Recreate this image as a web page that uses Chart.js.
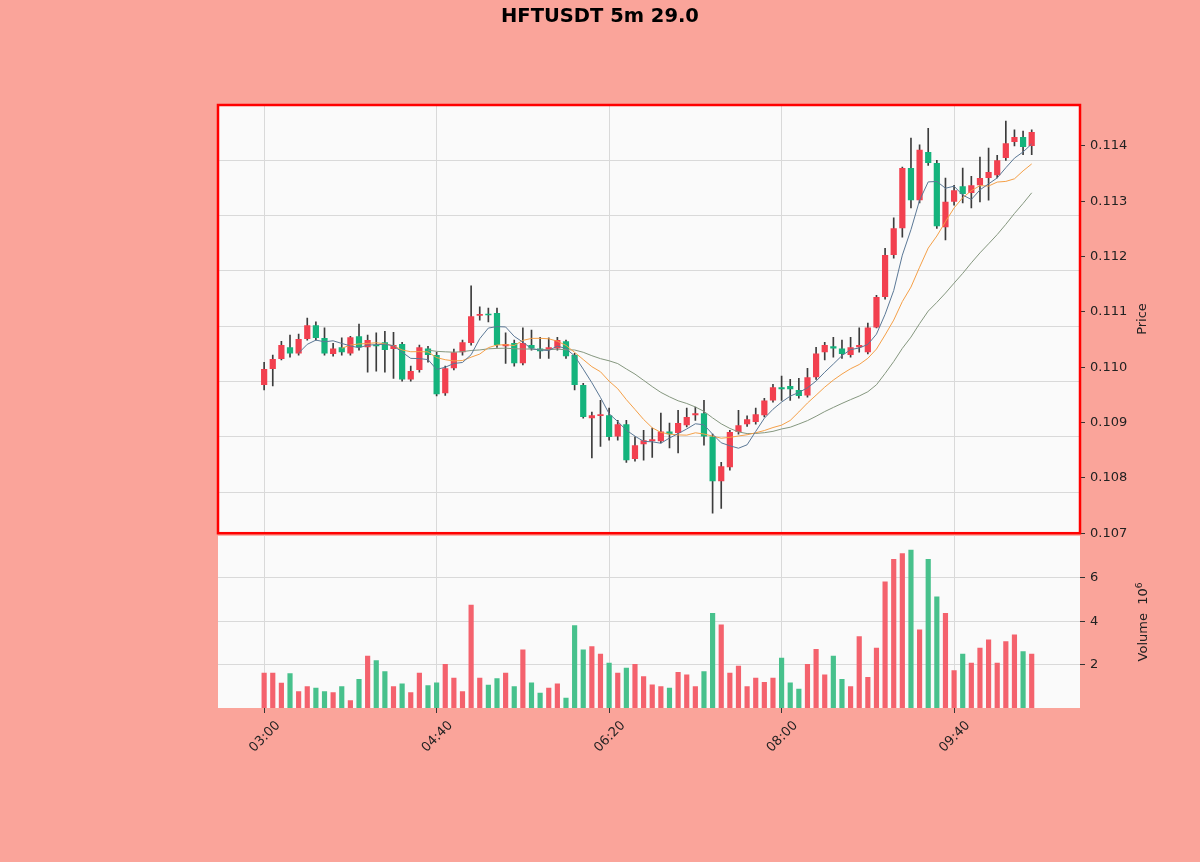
<!DOCTYPE html>
<html>
<head>
<meta charset="utf-8">
<script src="https://cdn.jsdelivr.net/npm/chart.js@4.4.1/dist/chart.umd.min.js"></script>
<style>
  html, body { margin: 0; padding: 0; background: #faa49a; }
  #wrap { position: relative; width: 1200px; height: 862px; overflow: hidden; }
  #title { position: absolute; left: 0; top: 4px; width: 1200px; text-align: center;
           font: bold 19.5px "DejaVu Sans", sans-serif; color: #000; }
  .ylab { position: absolute; width: 200px; height: 16px; line-height: 16px; text-align: center;
          font: 13px "DejaVu Sans", sans-serif; color: #222; transform: rotate(-90deg); }
  #price { position: absolute; left: 0; top: 0; }
  #volume { position: absolute; left: 0; top: 523px; }
</style>
</head>
<body>
<div id="wrap">
  <canvas id="price" width="1200" height="546"></canvas>
  <canvas id="volume" width="1200" height="339"></canvas>
  <div id="title">HFTUSDT 5m 29.0</div>
  <div class="ylab" style="left:1042px; top:311px;">Price</div>
  <div class="ylab" style="left:1042px; top:614px;">Volume &nbsp;10<sup style="font-size:9px">6</sup></div>
</div>
<script>
// 5-minute candles from 03:00 to 10:25
const opens = [0.10968,0.10997,0.11015,0.11036,0.11025,0.11051,0.11076,0.11053,0.11024,0.11036,
  0.11025,0.11056,0.11036,0.11040,0.11045,0.11033,0.11042,0.10978,0.10995,0.11034,
  0.11022,0.10953,0.10998,0.11027,0.11044,0.11093,0.11096,0.11098,0.11038,0.11044,
  0.11007,0.11040,0.11034,0.11031,0.11034,0.11047,0.11022,0.10968,0.10908,0.10912,
  0.10913,0.10875,0.10897,0.10834,0.10861,0.10866,0.10866,0.10884,0.10881,0.10895,
  0.10913,0.10917,0.10875,0.10794,0.10819,0.10883,0.10897,0.10901,0.10913,0.10940,
  0.10964,0.10966,0.10959,0.10949,0.10982,0.11027,0.11038,0.11034,0.11022,0.11036,
  0.11027,0.11072,0.11127,0.11203,0.11251,0.11360,0.11302,0.11389,0.11369,0.11253,
  0.11299,0.11327,0.11315,0.11329,0.11342,0.11347,0.11378,0.11407,0.11416,0.11400];
const highs = [0.11009,0.11022,0.11047,0.11058,0.11060,0.11089,0.11082,0.11071,0.11043,0.11053,
  0.11056,0.11078,0.11058,0.11062,0.11065,0.11063,0.11045,0.11002,0.11040,0.11038,
  0.11027,0.11002,0.11033,0.11049,0.11147,0.11109,0.11107,0.11107,0.11062,0.11049,
  0.11071,0.11067,0.11054,0.11053,0.11054,0.11049,0.11025,0.10971,0.10919,0.10940,
  0.10926,0.10904,0.10904,0.10874,0.10886,0.10890,0.10917,0.10899,0.10922,0.10926,
  0.10928,0.10940,0.10879,0.10828,0.10886,0.10922,0.10912,0.10926,0.10944,0.10969,
  0.10984,0.10978,0.10980,0.10998,0.11036,0.11045,0.11054,0.11049,0.11054,0.11071,
  0.11080,0.11130,0.11215,0.11270,0.11362,0.11414,0.11402,0.11432,0.11374,0.11342,
  0.11329,0.11360,0.11345,0.11380,0.11396,0.11383,0.11445,0.11429,0.11427,0.11429];
const lows = [0.10959,0.10966,0.11013,0.11018,0.11022,0.11049,0.11049,0.11022,0.11020,0.11022,
  0.11022,0.11031,0.10991,0.10993,0.10991,0.10980,0.10975,0.10975,0.10991,0.11009,
  0.10948,0.10949,0.10995,0.11022,0.11040,0.11085,0.11082,0.11036,0.11007,0.11002,
  0.11004,0.11031,0.11016,0.11016,0.11031,0.11016,0.10959,0.10908,0.10836,0.10857,
  0.10868,0.10868,0.10828,0.10830,0.10832,0.10837,0.10863,0.10854,0.10845,0.10892,
  0.10904,0.10859,0.10736,0.10745,0.10814,0.10879,0.10893,0.10897,0.10910,0.10937,
  0.10940,0.10940,0.10944,0.10946,0.10978,0.11013,0.11018,0.11016,0.11018,0.11027,
  0.11024,0.11071,0.11123,0.11197,0.11235,0.11288,0.11297,0.11365,0.11251,0.11230,
  0.11293,0.11297,0.11288,0.11299,0.11302,0.11342,0.11374,0.11400,0.11384,0.11384];
const closes = [0.10997,0.11015,0.11040,0.11025,0.11051,0.11076,0.11053,0.11025,0.11034,0.11027,
  0.11054,0.11036,0.11049,0.11038,0.11031,0.11040,0.10978,0.10993,0.11036,0.11022,
  0.10951,0.10998,0.11027,0.11045,0.11092,0.11096,0.11094,0.11040,0.11042,0.11007,
  0.11044,0.11034,0.11029,0.11036,0.11049,0.11020,0.10968,0.10910,0.10913,0.10915,
  0.10874,0.10897,0.10832,0.10859,0.10868,0.10870,0.10884,0.10879,0.10899,0.10910,
  0.10917,0.10875,0.10794,0.10821,0.10883,0.10895,0.10906,0.10915,0.10940,0.10964,
  0.10960,0.10960,0.10948,0.10982,0.11025,0.11040,0.11034,0.11024,0.11036,0.11040,
  0.11072,0.11127,0.11203,0.11251,0.11360,0.11302,0.11393,0.11369,0.11255,0.11299,
  0.11320,0.11313,0.11329,0.11342,0.11353,0.11374,0.11405,0.11416,0.11398,0.11425];
// volume in millions
const volumes = [1.62,1.62,1.16,1.60,0.77,1.00,0.93,0.77,0.72,1.00,
  0.36,1.34,2.41,2.20,1.69,1.00,1.13,0.72,1.62,1.05,
  1.17,2.03,1.39,0.77,4.76,1.39,1.07,1.37,1.62,1.00,
  2.69,1.17,0.70,0.93,1.13,0.47,3.81,2.69,2.84,2.50,
  2.08,1.62,1.85,2.03,1.46,1.08,1.00,0.93,1.66,1.54,
  1.00,1.69,4.38,3.84,1.62,1.95,1.00,1.39,1.20,1.39,
  2.31,1.17,0.89,2.03,2.72,1.54,2.41,1.34,1.00,3.30,
  1.43,2.77,5.83,6.86,7.13,7.29,3.61,6.86,5.14,4.38,
  1.74,2.50,2.08,2.77,3.15,2.08,3.07,3.38,2.61,2.50];

const timeTickIdx = [0, 20, 40, 60, 80];
const timeTickLabels = ['03:00', '04:40', '06:20', '08:00', '09:40'];
const priceTicks = [0.107, 0.108, 0.109, 0.110, 0.111, 0.112, 0.113, 0.114];
const volumeTicks = [2, 4, 6];
const maPeriods = [5, 10, 20];

const UP = '#f2404f', DOWN = '#14b37c';
const UP_VOL = '#f4626d', DOWN_VOL = '#47c18c';
const WICK = '#3c3c3c';
const MA_COLORS = ['#5b7896', '#f5a048', '#85977f'];
const GRID = '#d9d9d9';
const FONT = { family: 'DejaVu Sans', size: 13 };

const X_MIN = -5.35, X_MAX = 94.6;

function movingAverage(values, n) {
  return values.map((v, i) => i < n - 1 ? null
    : values.slice(i - n + 1, i + 1).reduce((a, b) => a + b, 0) / n);
}

const idx = closes.map((c, i) => i);
const isUp = i => closes[i] >= opens[i];

const plotBg = {
  id: 'plotBg',
  beforeDraw(chart) {
    const { ctx, chartArea: a } = chart;
    ctx.save();
    ctx.fillStyle = '#fafafa';
    ctx.fillRect(a.left, a.top, a.right - a.left, a.bottom - a.top);
    ctx.restore();
  }
};

const redFrame = {
  id: 'redFrame',
  afterDraw(chart) {
    const { ctx, chartArea: a } = chart;
    ctx.save();
    ctx.strokeStyle = '#ff0000';
    ctx.lineWidth = 2.5;
    ctx.strokeRect(a.left, a.top, a.right - a.left, a.bottom - a.top);
    ctx.restore();
  }
};

const maSets = maPeriods.map((n, k) => ({
  type: 'line',
  label: 'MA' + n,
  data: movingAverage(closes, n).map((v, i) => ({ x: i, y: v })),
  borderColor: MA_COLORS[k],
  borderWidth: 1,
  pointRadius: 0,
  tension: 0,
  order: 1
}));

new Chart(document.getElementById('price'), {
  type: 'bar',
  data: {
    datasets: [
      {
        label: 'wick',
        data: idx.map(i => ({ x: i, y: [lows[i], highs[i]] })),
        backgroundColor: WICK,
        barThickness: 1,
        grouped: false,
        order: 3
      },
      {
        label: 'body',
        data: idx.map(i => ({ x: i, y: [opens[i], closes[i]] })),
        backgroundColor: ctx => isUp(ctx.dataIndex) ? UP : DOWN,
        barPercentage: 0.72,
        categoryPercentage: 1,
        minBarLength: 1.5,
        grouped: false,
        order: 2
      },
      ...maSets
    ]
  },
  options: {
    responsive: false,
    animation: false,
    layout: { padding: { left: 218, top: 105, right: 0, bottom: 0 } },
    plugins: { legend: { display: false }, tooltip: { enabled: false } },
    scales: {
      x: {
        type: 'linear', min: X_MIN, max: X_MAX, offset: false,
        afterBuildTicks: s => { s.ticks = timeTickIdx.map(v => ({ value: v })); },
        afterFit: s => { s.height = 0; },
        ticks: { display: false },
        grid: { color: GRID, drawTicks: false, offset: false },
        border: { display: false }
      },
      y: {
        position: 'right', min: 0.107, max: 0.11474,
        afterBuildTicks: s => { s.ticks = priceTicks.map(v => ({ value: v })); },
        afterFit: s => { s.width = 120; },
        ticks: { callback: v => v.toFixed(3), font: FONT, color: '#222', padding: 5 },
        grid: { drawOnChartArea: false, tickLength: 5, color: '#333' },
        border: { display: false }
      },
      yGrid: {
        position: 'left', min: 0.107, max: 0.11474,
        afterBuildTicks: s => { s.ticks = priceTicks.map(v => ({ value: v - 0.00026 })); },
        afterFit: s => { s.width = 0; },
        ticks: { display: false },
        grid: { color: GRID, drawTicks: false },
        border: { display: false }
      }
    }
  },
  plugins: [plotBg, redFrame]
});

new Chart(document.getElementById('volume'), {
  type: 'bar',
  data: {
    datasets: [{
      label: 'volume',
      data: idx.map(i => ({ x: i, y: volumes[i] })),
      backgroundColor: ctx => isUp(ctx.dataIndex) ? UP_VOL : DOWN_VOL,
      barPercentage: 0.6,
      categoryPercentage: 1
    }]
  },
  options: {
    responsive: false,
    animation: false,
    layout: { padding: { left: 218, top: 2, right: 0, bottom: 94 } },
    plugins: { legend: { display: false }, tooltip: { enabled: false } },
    scales: {
      x: {
        type: 'linear', min: X_MIN, max: X_MAX, offset: false,
        afterBuildTicks: s => { s.ticks = timeTickIdx.map(v => ({ value: v })); },
        afterFit: s => { s.height = 60; },
        ticks: {
          callback: v => timeTickLabels[timeTickIdx.indexOf(v)] ?? '',
          font: FONT, color: '#222', maxRotation: 45, minRotation: 45,
          labelOffset: 14, padding: 5
        },
        grid: { color: GRID, tickColor: '#333', tickLength: 5, offset: false },
        border: { display: false }
      },
      y: {
        position: 'right', min: 0, max: 7.93,
        afterBuildTicks: s => { s.ticks = volumeTicks.map(v => ({ value: v })); },
        afterFit: s => { s.width = 120; },
        ticks: { font: FONT, color: '#222', padding: 5 },
        grid: { color: GRID, tickColor: '#333', tickLength: 5 },
        border: { display: false }
      }
    }
  },
  plugins: [plotBg]
});
</script>
</body>
</html>
